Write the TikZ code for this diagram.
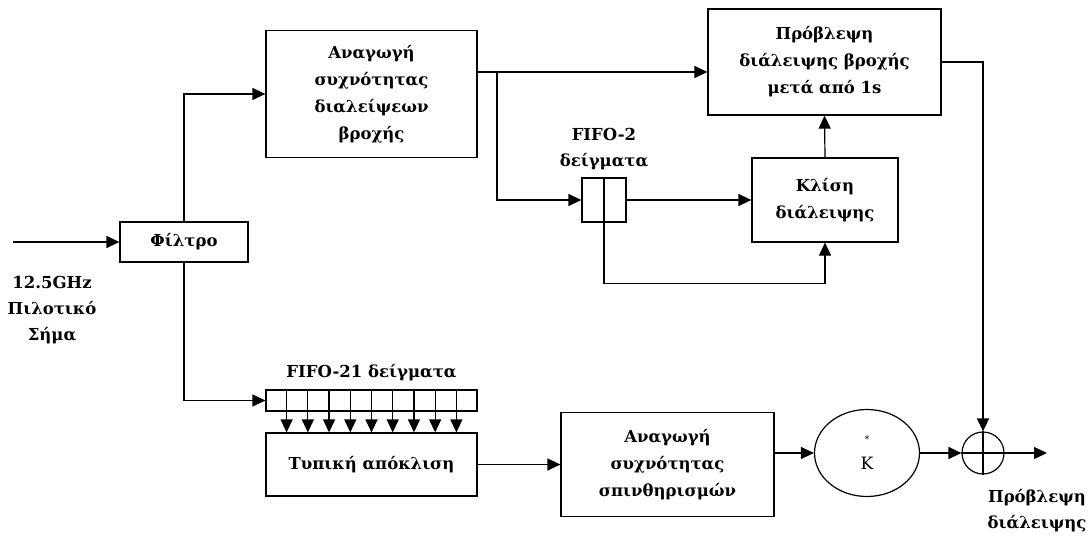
\documentclass[tikz,border=0pt]{standalone}
\usepackage{fontspec}
\setmainfont{DejaVu Serif}
\usetikzlibrary{arrows.meta,shapes.geometric,calc,positioning}

\begin{document}
\begin{tikzpicture}[x=1pt, y=-1pt, line width=1.2pt,
    >={Triangle[length=13pt,width=12pt]},
    box/.style={draw, rectangle, align=center, inner sep=0pt, font=\bfseries\fontsize{16.5}{27}\selectfont},
    lbl/.style={align=center, font=\bfseries\fontsize{16.5}{26}\selectfont}]
    \useasboundingbox (0,0) rectangle (1091,537);

    % Input and filter (left)
    \coordinate (in) at (13,242);
    \node (filter) [box, minimum width=128pt, minimum height=40pt] at (184,242) {Φίλτρο};
    \node (pilot) [lbl] at (52,310) {12.5GHz\\Πιλοτικό\\Σήμα};
    \draw[->] (in) -- (filter.west);

    % Rain fade branch (top)
    \node (rainfreq) [box, minimum width=211pt, minimum height=127pt] at (371.5,94) {Αναγωγή\\συχνότητας\\διαλείψεων\\βροχής};
    \node (predict) [box, minimum width=233pt, minimum height=106pt] at (824.5,62) {Πρόβλεψη\\διάλειψης βροχής\\μετά από 1s};
    \node (fifo2) [draw, rectangle, minimum width=44pt, minimum height=44pt, inner sep=0pt] at (604,200) {};
    \node (fifo2lbl) [lbl, above=3pt of fifo2] {FIFO-2\\δείγματα};
    \node (slope) [box, minimum width=146pt, minimum height=84pt] at (825,200) {Κλίση\\διάλειψης};
    \coordinate (split) at (497,72);

    \draw[->] (filter.north) |- (rainfreq.west);
    \draw (rainfreq.east |- split) -- (split);
    \draw[->] (split) -- (split -| predict.west);
    \draw[->] (split) |- (fifo2.west);
    \draw (fifo2.north) -- (fifo2.south);
    \draw[->] (fifo2.east) -- (slope.west);
    \draw[->] (fifo2.south) -- ++(0,61) -| (slope.south);
    \draw[->] (slope.north) -- (predict.south);

    % Scintillation branch (bottom)
    \node (fifo21) [draw, rectangle, minimum width=211pt, minimum height=21pt, inner sep=0pt] at (371.5,400.5) {};
    \node (fifo21lbl) [lbl, above=4pt of fifo21] {FIFO-21 δείγματα};
    \node (stdev) [box, minimum width=211pt, minimum height=63pt] at (371.5,464.5) {Τυπική απόκλιση};
    \node (scint) [box, minimum width=213pt, minimum height=104pt] at (667.5,464.5) {Αναγωγή\\συχνότητας\\σπινθηρισμών};
    \node (gain) [draw, ellipse, minimum width=105pt, minimum height=87pt, inner sep=0pt, align=center,
        font=\fontsize{17}{27}\selectfont] at (867,453) {{\small *}\\K};
    \node (sum) [draw, circle, minimum size=42pt, inner sep=0pt] at (983,453) {};
    \coordinate (out) at (1047,453);
    \node (outlbl) [lbl] at (1037,511) {Πρόβλεψη\\διάλειψης};

    \draw[->] (filter.south) |- (fifo21.west);
    \foreach \i in {1,...,9} {
        \coordinate (tap) at ($(fifo21.north west)!\i/10!(fifo21.north east)$);
        \draw[->] (tap) -- (tap |- stdev.north);
    }
    \draw[->] (stdev.east) -- (scint.west);
    \draw[->] (scint.east |- gain.west) -- (gain.west);
    \draw[->] (gain.east) -- (sum.west);
    \draw[line width=2.4pt] (sum.north) -- (sum.south) (sum.west) -- (sum.east);
    \draw[->] (predict.east) -| (sum.north);
    \draw[->] (sum.east) -- (out);
\end{tikzpicture}
\end{document}
